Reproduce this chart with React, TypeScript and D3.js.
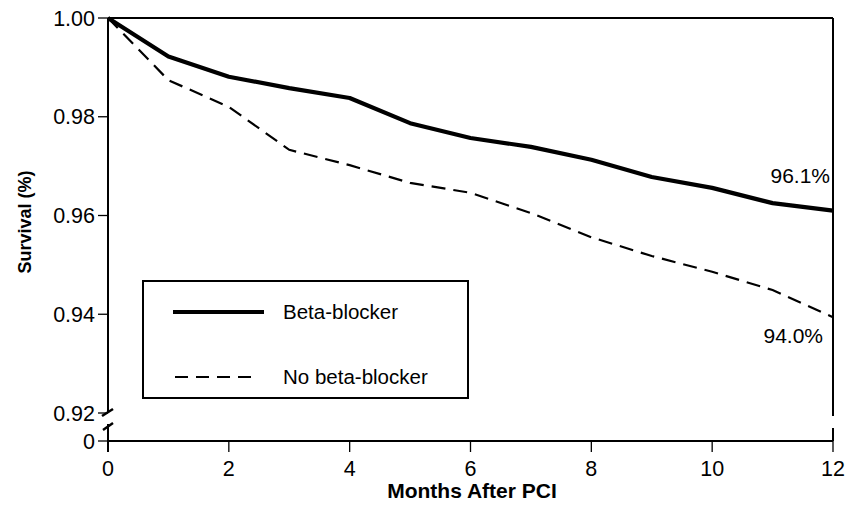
import { line, scaleLinear } from "d3";

const months = [0, 1, 2, 3, 4, 5, 6, 7, 8, 9, 10, 11, 12];
const betaBlocker = [1.0, 0.9922, 0.9881, 0.9858, 0.9838, 0.9787, 0.9757, 0.9739, 0.9713, 0.9678, 0.9656, 0.9625, 0.961];
const noBetaBlocker = [1.0, 0.9874, 0.982, 0.9733, 0.9702, 0.9666, 0.9646, 0.9605, 0.9556, 0.9518, 0.9486, 0.9449, 0.9394];
const xTicks = [0, 2, 4, 6, 8, 10, 12];
const yTicks = [1.0, 0.98, 0.96, 0.94, 0.92];
const endLabels = ["96.1%", "94.0%"];

const font = "'Liberation Sans', Arial, Helvetica, sans-serif";

export default function App() {
  const width = 845;
  const height = 509;
  const left = 108;
  const right = 833;
  const top = 18;
  const breakY = 413;
  const zeroY = 441;

  const x = scaleLinear().domain([0, 12]).range([left, right]);
  const y = scaleLinear().domain([0.92, 1.0]).range([breakY, top]);

  const path = line<number>()
    .x((_, i) => x(months[i]))
    .y((d) => y(d));

  const legend = { x: 143, y: 281, w: 325, h: 117 };

  return (
    <svg
      width={width}
      height={height}
      style={{ position: "absolute", left: 0, top: 0, background: "#fff" }}
      fontFamily={font}
    >
      {/* frame: top and right */}
      <line x1={left} x2={right} y1={top} y2={top} stroke="#000" strokeWidth={2} />
      <line x1={right} x2={right} y1={top} y2={breakY + 3} stroke="#000" strokeWidth={2} />
      <line x1={right} x2={right} y1={breakY + 15} y2={zeroY} stroke="#000" strokeWidth={2} />

      {/* left axis with break */}
      <line x1={left} x2={left} y1={top} y2={breakY} stroke="#000" strokeWidth={2} />
      <line x1={left} x2={left} y1={breakY + 11} y2={zeroY + 11} stroke="#000" strokeWidth={2} />
      <line x1={left - 6} x2={left + 5} y1={breakY + 3} y2={breakY - 4} stroke="#000" strokeWidth={2.5} />
      <line x1={left - 5} x2={left + 5} y1={breakY + 17} y2={breakY + 10} stroke="#000" strokeWidth={2.5} />

      {yTicks.map((t) => (
        <g key={`y-${t}`}>
          <line x1={left - 10} x2={left} y1={y(t)} y2={y(t)} stroke="#000" strokeWidth={1.3} />
          <text x={left - 13} y={y(t)} dy="0.36em" textAnchor="end" fontSize={21.5}>
            {t.toFixed(2)}
          </text>
        </g>
      ))}
      <line x1={left - 10} x2={left} y1={zeroY} y2={zeroY} stroke="#000" strokeWidth={1.3} />
      <text x={left - 13} y={zeroY} dy="0.36em" textAnchor="end" fontSize={21.5}>
        0
      </text>

      {/* x axis */}
      <line x1={left} x2={right} y1={zeroY} y2={zeroY} stroke="#000" strokeWidth={2} />
      {xTicks.map((t) => (
        <g key={`x-${t}`}>
          <line x1={x(t)} x2={x(t)} y1={zeroY} y2={zeroY + 11} stroke="#000" strokeWidth={1.3} />
          <text x={x(t)} y={476} textAnchor="middle" fontSize={21.5}>
            {t}
          </text>
        </g>
      ))}

      {/* series */}
      <path d={path(noBetaBlocker) ?? ""} fill="none" stroke="#000" strokeWidth={2.2} strokeDasharray="14,8" />
      <path d={path(betaBlocker) ?? ""} fill="none" stroke="#000" strokeWidth={4.2} strokeLinejoin="round" />

      <text x={830} y={y(betaBlocker[12]) - 35} dy="0.36em" textAnchor="end" fontSize={21}>
        {endLabels[0]}
      </text>
      <text x={823} y={y(noBetaBlocker[12]) + 18} dy="0.36em" textAnchor="end" fontSize={21}>
        {endLabels[1]}
      </text>

      {/* legend */}
      <rect x={legend.x} y={legend.y} width={legend.w} height={legend.h} fill="#fff" stroke="#000" strokeWidth={2} />
      <line x1={173} x2={264} y1={312} y2={312} stroke="#000" strokeWidth={4.2} />
      <text x={283} y={312} dy="0.36em" fontSize={20.5}>Beta-blocker</text>
      <line x1={175} x2={256} y1={377} y2={377} stroke="#000" strokeWidth={2} strokeDasharray="13,8" />
      <text x={283} y={377} dy="0.36em" fontSize={20.5}>No beta-blocker</text>

      {/* titles */}
      <text x={472} y={498} textAnchor="middle" fontSize={21} fontWeight="bold">
        Months After PCI
      </text>
      <text
        transform="translate(31,222) rotate(-90)"
        textAnchor="middle"
        fontSize={18}
        fontWeight="bold"
      >
        Survival (%)
      </text>
    </svg>
  );
}
